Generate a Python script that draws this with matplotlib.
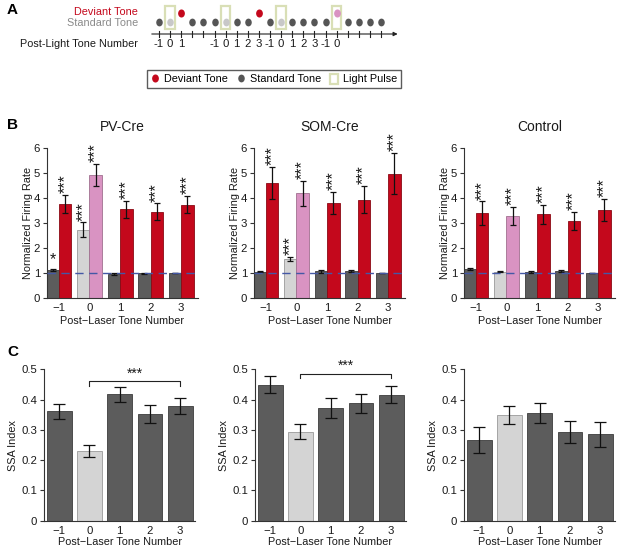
import numpy as np
import matplotlib
matplotlib.use("Agg")
import matplotlib.pyplot as plt
from matplotlib.lines import Line2D
from matplotlib.patches import Patch, Rectangle
from matplotlib.markers import MarkerStyle
from matplotlib.transforms import Affine2D
from matplotlib.ticker import FuncFormatter

plt.rcParams["font.family"] = ["Liberation Sans", "DejaVu Sans"]
plt.rcParams["axes.unicode_minus"] = True

# ---- data -------------------------------------------------------------
# panel A: tone sequence (std = standard, dev = deviant, light = standard + light,
# lightdev = deviant + light)
tone_kind = ["std", "light", "dev", "std", "std", "std", "light", "std", "std", "dev",
             "std", "light", "std", "std", "std", "std", "lightdev", "std", "std", "std", "std"]
tone_labels = ["-1", "0", "1", "", "", "-1", "0", "1", "2", "3",
               "-1", "0", "1", "2", "3", "-1", "0", "", "", "", ""]

tone_numbers = [-1, 0, 1, 2, 3]
groups = ["PV-Cre", "SOM-Cre", "Control"]

# panel B: normalized firing rate (standard / deviant), tone 0 = laser
std_rate = {
    "PV-Cre": [1.10, 2.71, 0.95, 0.97, 1.00],
    "SOM-Cre": [1.03, 1.56, 1.05, 1.05, 1.00],
    "Control": [1.14, 1.03, 1.02, 1.05, 1.00],
}
std_err = {
    "PV-Cre": [0.03, 0.30, 0.03, 0.02, 0.0],
    "SOM-Cre": [0.02, 0.08, 0.05, 0.04, 0.0],
    "Control": [0.05, 0.02, 0.03, 0.04, 0.0],
}
dev_rate = {
    "PV-Cre": [3.75, 4.92, 3.53, 3.44, 3.72],
    "SOM-Cre": [4.60, 4.17, 3.79, 3.92, 4.96],
    "Control": [3.37, 3.27, 3.33, 3.08, 3.51],
}
dev_err = {
    "PV-Cre": [0.37, 0.44, 0.34, 0.34, 0.35],
    "SOM-Cre": [0.64, 0.50, 0.45, 0.55, 0.83],
    "Control": [0.48, 0.37, 0.38, 0.36, 0.44],
}
std_sig = {
    "PV-Cre": ["*", "***", "", "", ""],
    "SOM-Cre": ["", "***", "", "", ""],
    "Control": ["", "", "", "", ""],
}
dev_sig = {g: ["***"] * 5 for g in groups}

# panel C: SSA index
ssa = {
    "PV-Cre": [0.362, 0.229, 0.418, 0.352, 0.378],
    "SOM-Cre": [0.449, 0.294, 0.372, 0.388, 0.416],
    "Control": [0.266, 0.348, 0.355, 0.293, 0.285],
}
ssa_err = {
    "PV-Cre": [0.025, 0.020, 0.025, 0.029, 0.027],
    "SOM-Cre": [0.028, 0.025, 0.033, 0.031, 0.028],
    "Control": [0.042, 0.030, 0.033, 0.037, 0.042],
}
ssa_bracket = {"PV-Cre": 0.46, "SOM-Cre": 0.485, "Control": None}

# ---- colours ----------------------------------------------------------
RED = "#c4081c"
PINK = "#d993c2"
DARK = "#5c5c5c"
LIGHT = "#d4d4d4"
PULSE = "#d9dfb6"
TXT = "#1a1a1a"
FS_LAB = 7.8
FS_TICK = 8.2

W, H = 617, 550
fig = plt.figure(figsize=(W / 100, H / 100), dpi=100)


def px_axes(left, top, right, bottom):
    return fig.add_axes([left / W, 1 - bottom / H, (right - left) / W, (bottom - top) / H])


# ---- panel A ----------------------------------------------------------
ax_a = fig.add_axes([0, 1 - 100 / H, 1, 100 / H])
x0, dx = 159, 11.1
ax_a.set_xlim(-x0 / dx, (W - x0) / dx)
ax_a.set_ylim(100, 0)
ax_a.axis("off")

ell = MarkerStyle("o", transform=Affine2D().scale(0.8, 1.0))
y_dev, y_std, y_axis = 13, 22, 34
for i, kind in enumerate(tone_kind):
    if kind in ("light", "lightdev"):
        ax_a.add_patch(Rectangle((i - 0.42, 5.5), 0.84, 23.5, facecolor="none",
                                 edgecolor=PULSE, lw=1.6))
    if kind == "std":
        ax_a.plot(i, y_std, marker=ell, ms=4.6, color="#555555", mec="#555555")
    elif kind == "light":
        ax_a.plot(i, y_std, marker=ell, ms=4.6, color="#c8c8c8", mec="#c8c8c8")
    elif kind == "dev":
        ax_a.plot(i, y_dev, marker=ell, ms=4.8, color=RED, mec=RED)
    elif kind == "lightdev":
        ax_a.plot(i, y_dev, marker=ell, ms=4.8, color=PINK, mec=PINK)
    ax_a.plot([i, i], [y_axis - 3, y_axis + 3], color="#222222", lw=0.8)
    ax_a.text(i, 44, tone_labels[i], ha="center", va="center", fontsize=8.2, color=TXT)

ax_a.annotate("", xy=(21.5, y_axis), xytext=(-0.65, y_axis),
              arrowprops=dict(arrowstyle="-|>", color="#222222", lw=0.8,
                              mutation_scale=6, shrinkA=0, shrinkB=0))
ax_a.text(-1.9, 12.3, "Deviant Tone", fontsize=FS_LAB, color=RED, ha="right", va="center")
ax_a.text(-1.9, 22.8, "Standard Tone", fontsize=FS_LAB, color="#8a8a8a",
          ha="right", va="center")
ax_a.text(-1.9, 44, "Post-Light Tone Number", fontsize=FS_LAB, color=TXT,
          ha="right", va="center")

handles = [
    Line2D([], [], ls="none", marker=ell, ms=4.8, color=RED),
    Line2D([], [], ls="none", marker=ell, ms=4.6, color="#555555"),
    Patch(facecolor="none", edgecolor=PULSE, lw=1.6),
]
fig.legend(handles, ["Deviant Tone", "Standard Tone", "Light Pulse"],
           loc="center", bbox_to_anchor=(274 / W, 1 - 79 / H), ncol=3,
           fontsize=FS_LAB, frameon=True, fancybox=False, edgecolor="#333333",
           handlelength=0.8, handleheight=1.1, handletextpad=0.4,
           columnspacing=0.8, borderpad=0.35, borderaxespad=0)

# ---- panel labels -----------------------------------------------------
for lab, yy in [("A", 10), ("B", 125), ("C", 352)]:
    fig.text(7 / W, 1 - yy / H, lab, fontsize=11, fontweight="bold", va="center", ha="left")


def style_axes(ax, xlabelpad):
    ax.spines["top"].set_visible(False)
    ax.spines["right"].set_visible(False)
    for s in ("left", "bottom"):
        ax.spines[s].set_color("#333333")
        ax.spines[s].set_linewidth(0.8)
    ax.tick_params(axis="y", length=3, width=0.8, labelsize=FS_TICK, colors="#333333",
                   labelcolor=TXT, pad=2)
    ax.tick_params(axis="x", length=0, labelsize=FS_TICK, labelcolor=TXT, pad=3.5)
    ax.set_xticks(tone_numbers)
    ax.set_xticklabels(["\u22121", "0", "1", "2", "3"])
    ax.set_xlabel("Post\u2212Laser Tone Number", fontsize=FS_LAB, color=TXT,
                  labelpad=xlabelpad)


# ---- panel B ----------------------------------------------------------
b_left = [47, 254, 464]
x = np.array(tone_numbers, dtype=float)
bw = 0.41
for g, lft in zip(groups, b_left):
    ax = px_axes(lft, 147.7, lft + 151, 297.7)
    s_col = [LIGHT if t == 0 else DARK for t in tone_numbers]
    s_edge = ["#9a9a9a" if t == 0 else "#3c3c3c" for t in tone_numbers]
    d_col = [PINK if t == 0 else RED for t in tone_numbers]
    d_edge = ["#a0708f" if t == 0 else "#8a0a14" for t in tone_numbers]
    ax.bar(x - bw / 2, std_rate[g], bw, color=s_col, edgecolor=s_edge, lw=0.6, zorder=2)
    ax.bar(x + bw / 2, dev_rate[g], bw, color=d_col, edgecolor=d_edge, lw=0.6, zorder=2)
    ax.errorbar(x - bw / 2, std_rate[g], yerr=std_err[g], fmt="none", ecolor="#111111",
                elinewidth=0.9, capsize=2.5, capthick=0.9, zorder=3)
    ax.errorbar(x + bw / 2, dev_rate[g], yerr=dev_err[g], fmt="none", ecolor="#111111",
                elinewidth=0.9, capsize=2.5, capthick=0.9, zorder=3)
    ax.axhline(1, color="#4458a6", lw=1.0, dashes=(6, 4), zorder=4)
    for xi, v, e, s in zip(x - bw / 2, std_rate[g], std_err[g], std_sig[g]):
        if s == "*":
            ax.text(xi, v + e + 0.1, s, ha="center", va="bottom", fontsize=11.5, color=TXT)
        elif s:
            ax.text(xi, v + e + 0.06, s, ha="center", va="bottom", fontsize=11.5,
                    rotation=90, color=TXT, clip_on=False)
    for xi, v, e, s in zip(x + bw / 2, dev_rate[g], dev_err[g], dev_sig[g]):
        if s:
            ax.text(xi, v + e + 0.06, s, ha="center", va="bottom", fontsize=11.5,
                    rotation=90, color=TXT, clip_on=False)
    ax.set_xlim(-1.39, 3.55)
    ax.set_ylim(0, 6)
    ax.set_yticks(range(7))
    style_axes(ax, 2.5)
    ax.set_ylabel("Normalized Firing Rate", fontsize=FS_LAB, color=TXT, labelpad=0.5)
    ax.set_title(g, fontsize=10, color=TXT, pad=12)

# ---- panel C ----------------------------------------------------------
c_left = [44, 255, 464]
for g, lft in zip(groups, c_left):
    ax = px_axes(lft, 369.3, lft + 151, 520.7)
    cols = [LIGHT if t == 0 else DARK for t in tone_numbers]
    edges = ["#9a9a9a" if t == 0 else "#3c3c3c" for t in tone_numbers]
    ax.bar(x, ssa[g], 0.82, color=cols, edgecolor=edges, lw=0.6, zorder=2)
    ax.errorbar(x, ssa[g], yerr=ssa_err[g], fmt="none", ecolor="#111111",
                elinewidth=0.9, capsize=4, capthick=0.9, zorder=3)
    yb = ssa_bracket[g]
    if yb is not None:
        ax.plot([0, 0, 3, 3], [yb - 0.014, yb, yb, yb - 0.014], color="#222222",
                lw=0.8, clip_on=False)
        ax.text(1.5, yb + 0.002, "***", ha="center", va="bottom", fontsize=10,
                color=TXT, clip_on=False)
    ax.set_xlim(-1.5, 3.49)
    ax.set_ylim(0, 0.5)
    ax.set_yticks([0, 0.1, 0.2, 0.3, 0.4, 0.5])
    ax.yaxis.set_major_formatter(FuncFormatter(lambda v, p: "0" if v == 0 else f"{v:.1f}"))
    style_axes(ax, 1.2)
    ax.set_ylabel("SSA Index", fontsize=FS_LAB, color=TXT, labelpad=2)

fig.savefig("out.png", dpi=100)
